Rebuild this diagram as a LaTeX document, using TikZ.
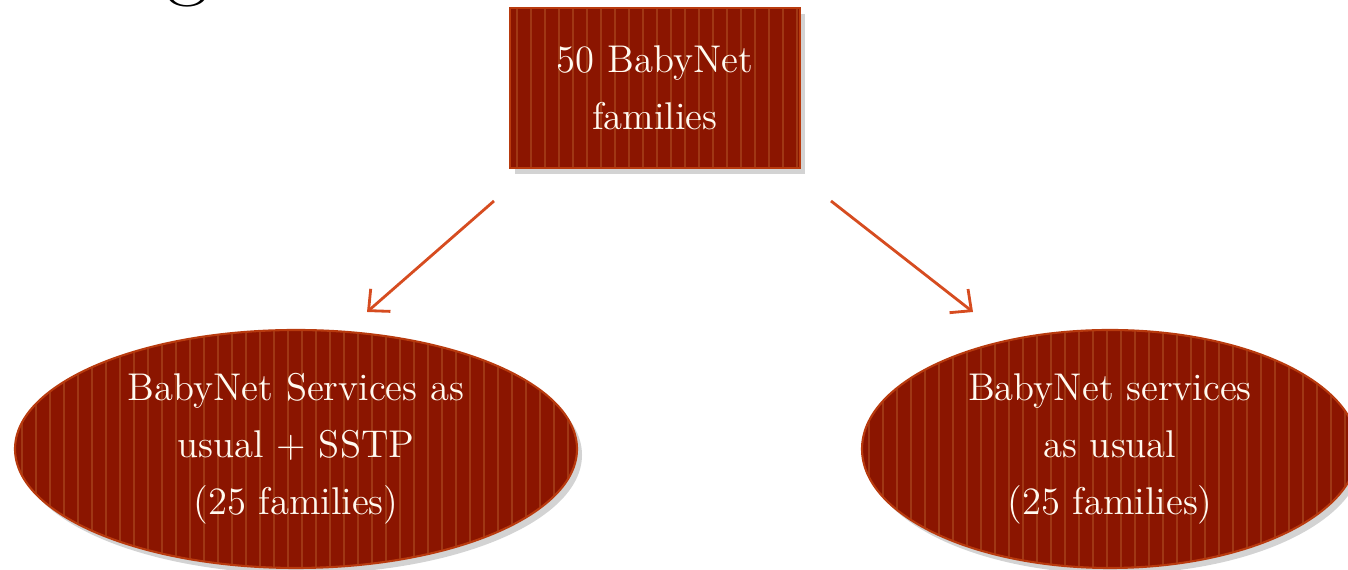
\documentclass[tikz,border=0pt]{standalone}
\usepackage{xcolor}
\usepackage{tikz}
\usetikzlibrary{shapes.geometric, arrows.meta, shadows}

\definecolor{brick}{RGB}{139,21,0}
\definecolor{stripe}{RGB}{160,55,20}
\definecolor{rim}{RGB}{184,58,14}
\definecolor{flow}{RGB}{214,76,32}
\definecolor{cream}{RGB}{255,250,240}

\begin{document}
\begin{tikzpicture}[
    stripes/.style={path picture={
        \foreach \i in {0,...,42}
            \draw[stripe, line width=0.022cm]
                ([xshift=0.07cm+\i*0.14cm]path picture bounding box.south west) --
                ([xshift=0.07cm+\i*0.14cm]path picture bounding box.north west);
    }},
    box/.style={rectangle, draw=rim, line width=0.6pt, fill=brick, stripes, text=cream,
        minimum width=2.9cm, minimum height=1.6cm, align=center, inner sep=0pt,
        font=\fontsize{11}{16.2}\selectfont,
        drop shadow={opacity=0.35, shadow xshift=0.05cm, shadow yshift=-0.06cm}},
    oval/.style={ellipse, draw=rim, line width=0.6pt, fill=brick, stripes, text=cream,
        minimum height=2.38cm, align=center, inner sep=0pt,
        font=\fontsize{11}{16.2}\selectfont,
        drop shadow={opacity=0.35, shadow xshift=0.05cm, shadow yshift=-0.06cm}},
    arrow/.style={flow, line width=0.8pt, -{Straight Barb[length=1.6mm, width=3mm]}}]

    \useasboundingbox (0,0) rectangle (13.48,-5.70);

    % cut-off title letter
    \node (title) [anchor=base, inner sep=0pt, font=\fontsize{26}{30}\selectfont] at (1.87,0.11) {g};

    \node (all) [box] at (6.55,-0.88) {50 BabyNet\\families};

    \node (sstp) [oval, minimum width=5.62cm] at (2.96,-4.49)
        {BabyNet Services as\\usual + SSTP\\(25 families)};
    \node (usual) [oval, minimum width=4.96cm] at (11.10,-4.49)
        {BabyNet services\\as usual\\(25 families)};

    \coordinate (lfrom) at (4.94,-2.01);
    \coordinate (lto) at (3.67,-3.12);
    \coordinate (rfrom) at (8.31,-2.01);
    \coordinate (rto) at (9.73,-3.12);

    \draw [arrow] (lfrom) -- (lto);
    \draw [arrow] (rfrom) -- (rto);

\end{tikzpicture}
\end{document}
